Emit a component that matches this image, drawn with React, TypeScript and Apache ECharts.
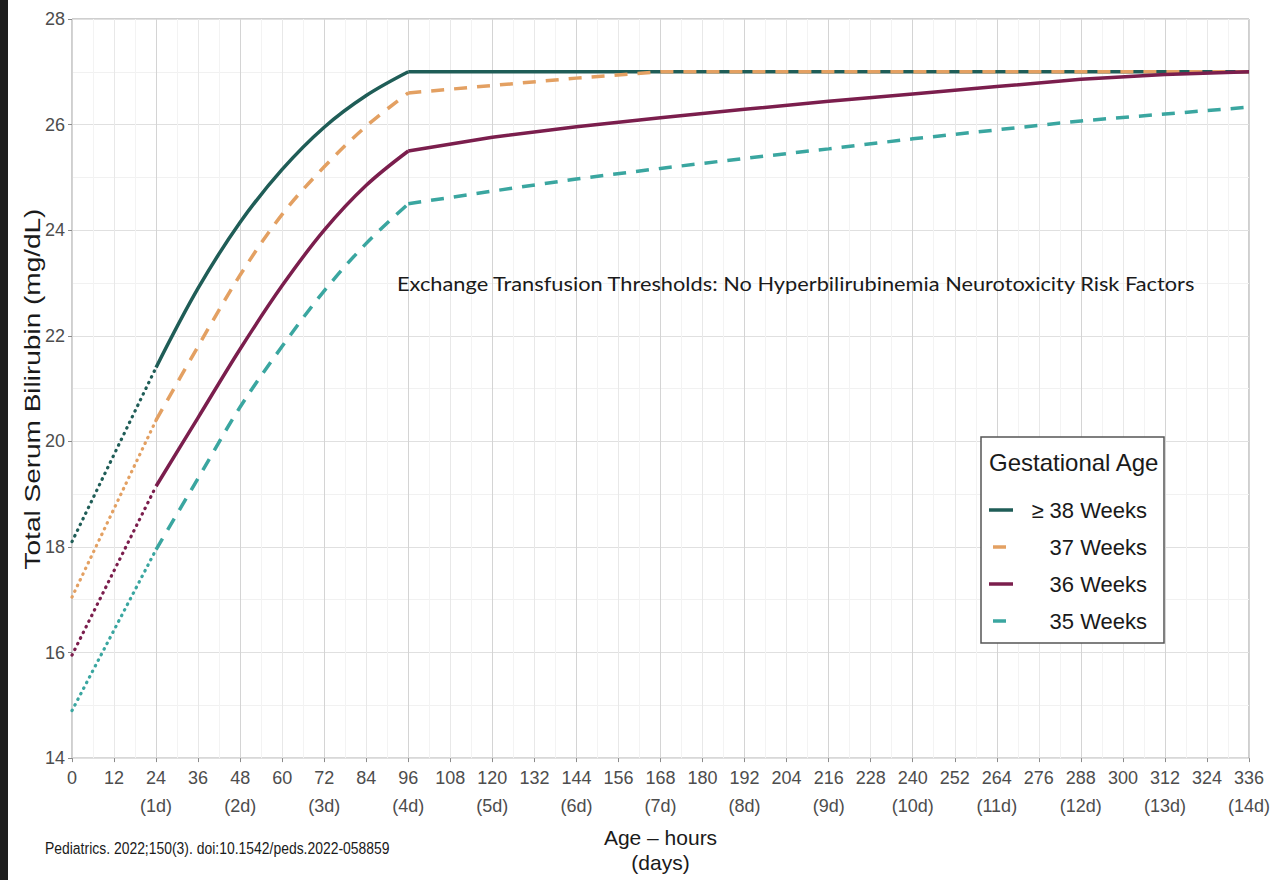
import React, { useEffect, useRef } from "react";
import * as echarts from "echarts";

// ---- data ----
const hoursEarly = [0, 24];
const ga38Early = [18.1, 21.4];
const ga37Early = [17.05, 20.4];
const ga36Early = [15.95, 19.15];
const ga35Early = [14.9, 17.95];

const hoursCurve = [24, 36, 48, 60, 72, 84, 96];
const ga38Curve = [21.4, 22.9, 24.15, 25.15, 25.95, 26.55, 27.0];
const ga37Curve = [20.4, 21.8, 23.15, 24.3, 25.2, 25.97, 26.6];
const ga36Curve = [19.15, 20.45, 21.75, 22.95, 24.0, 24.85, 25.5];
const ga35Curve = [17.95, 19.3, 20.65, 21.8, 22.85, 23.75, 24.5];

const hoursLate = [96, 120, 144, 168, 192, 216, 240, 264, 288, 312, 336];
const ga38Late = [27.0, 27.0, 27.0, 27.0, 27.0, 27.0, 27.0, 27.0, 27.0, 27.0, 27.0];
const ga37Late = [26.6, 26.74, 26.88, 27.0, 27.0, 27.0, 27.0, 27.0, 27.0, 27.0, 27.0];
const ga36Late = [25.5, 25.76, 25.96, 26.13, 26.29, 26.44, 26.58, 26.72, 26.86, 26.95, 27.0];
const ga35Late = [24.5, 24.74, 24.97, 25.17, 25.36, 25.54, 25.73, 25.9, 26.07, 26.2, 26.33];

const groupNames = ["≥ 38 Weeks", "37 Weeks", "36 Weeks", "35 Weeks"];
const groupColors = ["#1f5d57", "#e3a062", "#7b1e4d", "#3aa6a0"];
const groupDashed = [false, true, false, true];

const xMin = 0;
const xMax = 336;
const xStep = 12;
const yMin = 14;
const yMax = 28;
const yStep = 2;

const annotationText =
  "Exchange Transfusion Thresholds: No Hyperbilirubinemia Neurotoxicity Risk Factors";
const sourceText = "Pediatrics. 2022;150(3). doi:10.1542/peds.2022-058859";
const legendTitle = "Gestational Age";
const yAxisName = "Total Serum Bilirubin (mg/dL)";
const xAxisName = "Age – hours\n(days)";

const SANS = "'Liberation Sans', Arial, sans-serif";

function pairs(xs: number[], ys: number[]) {
  return xs.map((x, i) => [x, ys[i]]);
}

export default function App() {
  const ref = useRef<HTMLDivElement>(null);

  useEffect(() => {
    if (!ref.current) return;
    const chart = echarts.init(ref.current, undefined, { renderer: "svg" });

    const early = [ga38Early, ga37Early, ga36Early, ga35Early];
    const curve = [ga38Curve, ga37Curve, ga36Curve, ga35Curve];
    const late = [ga38Late, ga37Late, ga36Late, ga35Late];

    const series: any[] = [];
    groupNames.forEach((name, g) => {
      const color = groupColors[g];
      const lineType = groupDashed[g] ? [13, 10] : "solid";
      series.push({
        type: "line",
        name: name + " (0–24 h)",
        data: pairs(hoursEarly, early[g]),
        symbol: "none",
        silent: true,
        lineStyle: { color, width: 3.2, type: [0.5, 5.8], cap: "round" },
        z: 2 + g,
      });
      series.push({
        type: "line",
        name,
        data: pairs(hoursCurve, curve[g]),
        symbol: "none",
        smooth: 0.35,
        silent: true,
        lineStyle: { color, width: 3.5, type: lineType },
        itemStyle: { color },
        z: 2 + g,
      });
      series.push({
        type: "line",
        name: name + " (96–336 h)",
        data: pairs(hoursLate, late[g]),
        symbol: "none",
        silent: true,
        lineStyle: { color, width: 3.5, type: lineType },
        z: 2 + g,
      });
    });

    // legend drawn as a boxed key
    const legendX = 981;
    const legendY = 437;
    const legendW = 183;
    const legendH = 206;
    const Z = 100;
    const legendChildren: any[] = [
      {
        type: "rect",
        z: Z,
        shape: { x: legendX, y: legendY, width: legendW, height: legendH },
        style: { fill: "#ffffff", stroke: "#555555", lineWidth: 1.5 },
      },
      {
        type: "text",
        z: Z + 1,
        x: legendX + 8,
        y: legendY + 25,
        style: {
          text: legendTitle,
          fill: "#1a1a1a",
          font: `24px ${SANS}`,
          textVerticalAlign: "middle",
        },
      },
    ];
    groupNames.forEach((name, g) => {
      const cy = legendY + 73 + g * 37;
      const dashed = groupDashed[g];
      legendChildren.push({
        type: "line",
        z: Z + 1,
        shape: dashed
          ? { x1: legendX + 12, y1: cy, x2: legendX + 25, y2: cy }
          : { x1: legendX + 8, y1: cy, x2: legendX + 32, y2: cy },
        style: { stroke: groupColors[g], lineWidth: 3.5 },
      });
      legendChildren.push({
        type: "text",
        z: Z + 1,
        x: legendX + legendW - 17,
        y: cy,
        style: {
          text: name,
          fill: "#1a1a1a",
          font: `22px ${SANS}`,
          textAlign: "right",
          textVerticalAlign: "middle",
        },
      });
    });

    const option: any = {
      animation: false,
      backgroundColor: "#ffffff",
      grid: {
        left: 72,
        right: 30,
        top: 19,
        bottom: 113,
        show: true,
        borderColor: "#9e9e9e",
        borderWidth: 1,
        backgroundColor: "transparent",
        containLabel: false,
      },
      xAxis: {
        type: "value",
        min: xMin,
        max: xMax,
        interval: xStep,
        axisLine: { show: false },
        axisTick: { show: true, length: 4, lineStyle: { color: "#8a8a8a" } },
        axisLabel: {
          color: "#4d4d4d",
          fontFamily: SANS,
          fontSize: 18,
          lineHeight: 28,
          margin: 6,
          formatter: (v: number) =>
            v > 0 && v % 24 === 0 ? `${v}\n(${v / 24}d)` : `${v}`,
        },
        splitLine: {
          show: true,
          lineStyle: { color: ["#d4d4d4", "#e8e8e8"], width: 1 },
        },
        minorTick: { show: false, splitNumber: 2 },
        minorSplitLine: { show: true, lineStyle: { color: "#f3f3f3", width: 1 } },
        name: xAxisName,
        nameLocation: "middle",
        nameGap: 66,
        nameTextStyle: {
          color: "#1a1a1a",
          fontFamily: SANS,
          fontSize: 21,
          lineHeight: 25,
        },
      },
      yAxis: {
        type: "value",
        min: yMin,
        max: yMax,
        interval: yStep,
        axisLine: { show: false },
        axisTick: { show: true, length: 4, lineStyle: { color: "#8a8a8a" } },
        axisLabel: {
          color: "#4d4d4d",
          fontFamily: SANS,
          fontSize: 18,
          margin: 7,
        },
        splitLine: { show: true, lineStyle: { color: "#e0e0e0", width: 1 } },
        minorTick: { show: false, splitNumber: 2 },
        minorSplitLine: { show: true, lineStyle: { color: "#f1f1f1", width: 1 } },
      },
      series,
      graphic: [
        {
          type: "rect",
          shape: { x: 0, y: 0, width: 8, height: 880 },
          style: { fill: "#1e1e1e" },
          z: Z,
        },
        {
          type: "text",
          x: 32,
          y: 389,
          rotation: Math.PI / 2,
          scaleY: 0.8,
          style: {
            text: yAxisName,
            fill: "#1a1a1a",
            font: `28px ${SANS}`,
            textAlign: "center",
            textVerticalAlign: "middle",
          },
          z: Z,
        },
        {
          type: "text",
          x: 397,
          y: 283,
          scaleX: 1.09,
          style: {
            text: annotationText,
            fill: "#1a1a1a",
            font: "20px Lato, 'Open Sans', sans-serif",
            textVerticalAlign: "middle",
          },
          z: Z,
        },
        {
          type: "text",
          x: 45,
          y: 848,
          scaleX: 0.82,
          style: {
            text: sourceText,
            fill: "#1a1a1a",
            font: `17px ${SANS}`,
            textVerticalAlign: "middle",
          },
          z: Z,
        },
        { type: "group", children: legendChildren, z: Z },
      ],
    };

    chart.setOption(option);
    return () => chart.dispose();
  }, []);

  return (
    <div
      ref={ref}
      style={{ position: "absolute", left: 0, top: 0, width: 1279, height: 880 }}
    />
  );
}
